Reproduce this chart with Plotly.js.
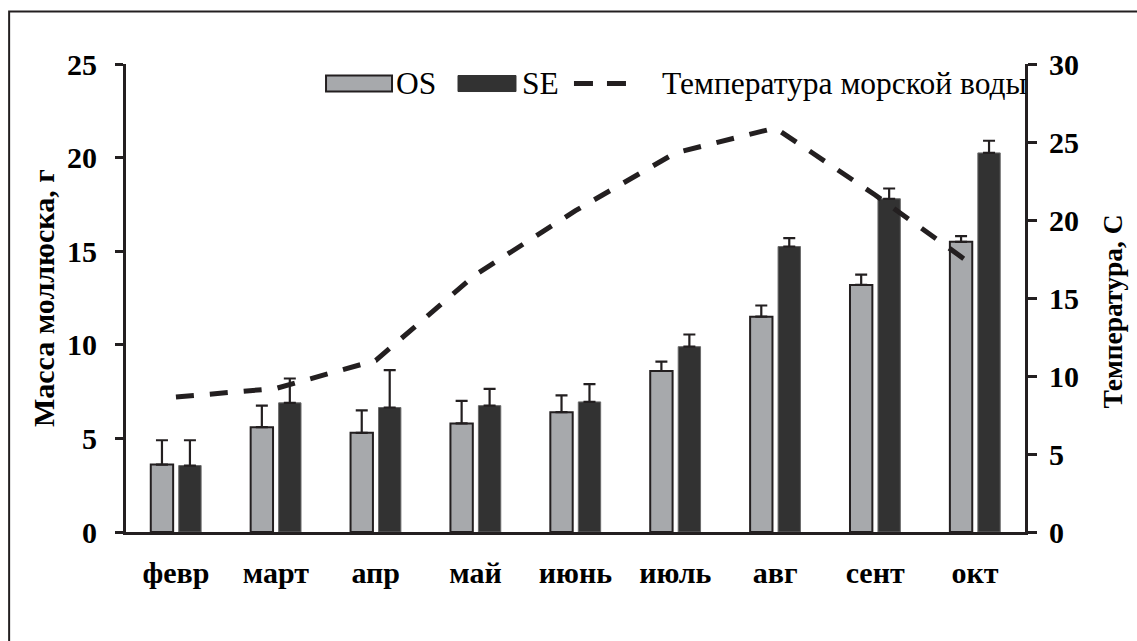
<!DOCTYPE html>
<html>
<head>
<meta charset="utf-8">
<script src="https://cdn.plot.ly/plotly-3.0.1.min.js"></script>
<style>
  html, body { margin: 0; padding: 0; background: #fff; }
  #chart { width: 1137px; height: 641px; }
</style>
</head>
<body>
<div id="chart"></div>
<script>
// ---- data ----
const months = ["февр", "март", "апр", "май", "июнь", "июль", "авг", "сент", "окт"];
const massOS = [3.6, 5.6, 5.3, 5.8, 6.4, 8.6, 11.5, 13.2, 15.5];
const errOS  = [1.3, 1.15, 1.2, 1.2, 0.9, 0.5, 0.6, 0.55, 0.3];
const massSE = [3.55, 6.9, 6.65, 6.75, 6.95, 9.9, 15.25, 17.8, 20.25];
const errSE  = [1.35, 1.3, 2.0, 0.9, 0.95, 0.65, 0.45, 0.55, 0.65];
const noErr  = [0, 0, 0, 0, 0, 0, 0, 0, 0];
const seaTemp = [8.65, 9.2, 11.0, 16.5, 20.6, 24.3, 25.9, 21.6, 17.0];
const massTicks = [0, 5, 10, 15, 20, 25];
const tempTicks = [0, 5, 10, 15, 20, 25, 30];
const seriesNames = ["OS", "SE", "Температура морской воды"];

const ink = "#231f20";
const greyFill = "#a7a9ac";
const darkFill = "#323232";
const serif = "Liberation Serif";

const traces = [
  {
    type: "bar", name: seriesNames[0], x: months, y: massOS,
    marker: { color: greyFill, line: { color: ink, width: 2 } },
    error_y: { type: "data", array: errOS, arrayminus: noErr, symmetric: false,
               color: ink, thickness: 2.2, width: 6 },
    hoverinfo: "skip", showlegend: false
  },
  {
    type: "bar", name: seriesNames[1], x: months, y: massSE,
    marker: { color: darkFill, line: { color: "#6a6a6a", width: 1 } },
    error_y: { type: "data", array: errSE, arrayminus: noErr, symmetric: false,
               color: ink, thickness: 2.2, width: 6 },
    hoverinfo: "skip", showlegend: false
  },
  {
    type: "scatter", mode: "lines", name: seriesNames[2],
    x: months, y: seaTemp, yaxis: "y2",
    line: { color: ink, width: 5, dash: "18px,16px" },
    hoverinfo: "skip", showlegend: false
  }
];

// legend (Excel-style wide swatches) built in paper coordinates
const legY = 0.9583;
const legendShapes = [
  { type: "rect", xref: "paper", yref: "paper", x0: 0.2225, x1: 0.2959, y0: 0.9412, y1: 0.9754,
    line: { color: ink, width: 2 }, fillcolor: greyFill },
  { type: "rect", xref: "paper", yref: "paper", x0: 0.3693, x1: 0.4338, y0: 0.9412, y1: 0.9754,
    line: { color: darkFill, width: 1 }, fillcolor: darkFill },
  { type: "line", xref: "paper", yref: "paper", x0: 0.4983, x1: 0.5662, y0: legY, y1: legY,
    line: { color: ink, width: 5, dash: "19px,14px" } }
];
const legendTexts = [
  { text: seriesNames[0], x: 0.2981 },
  { text: seriesNames[1], x: 0.4383 },
  { text: seriesNames[2], x: 0.594 }
].map(d => ({
  text: d.text, xref: "paper", yref: "paper", x: d.x, y: legY,
  xanchor: "left", yanchor: "middle", showarrow: false,
  font: { family: serif, size: 31.5, color: "#000" }
}));

const layout = {
  width: 1137, height: 641,
  margin: { l: 126, r: 112, t: 64, b: 109, pad: 0 },
  paper_bgcolor: "#ffffff", plot_bgcolor: "#ffffff",
  font: { family: serif, color: "#000", size: 30 },
  showlegend: false,
  barmode: "group", bargap: 0.44, bargroupgap: 0.2,
  xaxis: {
    type: "category", range: [-0.5, 8.5],
    showline: true, linecolor: ink, linewidth: 3, mirror: false,
    ticks: "", showgrid: false, zeroline: false,
    tickfont: { family: serif, size: 30, color: "#000", weight: "bold" },
    ticklabelstandoff: 12
  },
  yaxis: {
    range: [0, 25], tickvals: massTicks, ticktext: massTicks.map(String),
    showline: true, linecolor: ink, linewidth: 3,
    ticks: "outside", ticklen: 8, tickwidth: 3, tickcolor: ink,
    showgrid: false, zeroline: false,
    tickfont: { family: serif, size: 30, color: "#000", weight: "bold" },
    ticklabelstandoff: 12
  },
  yaxis2: {
    range: [0, 30], tickvals: tempTicks, ticktext: tempTicks.map(String),
    overlaying: "y", side: "right",
    showline: true, linecolor: ink, linewidth: 3,
    ticks: "outside", ticklen: 9, tickwidth: 3, tickcolor: ink,
    showgrid: false, zeroline: false,
    tickfont: { family: serif, size: 30, color: "#000", weight: "bold" },
    ticklabelstandoff: 6
  },
  annotations: [
    { text: "Масса моллюска, г", xref: "paper", yref: "paper", x: -0.0923, y: 0.50,
      textangle: -90, showarrow: false, xanchor: "center", yanchor: "middle",
      font: { family: serif, size: 30, color: "#000", weight: "bold" } },
    { text: "Температура, С", xref: "paper", yref: "paper", x: 1.0979, y: 0.471,
      textangle: -90, showarrow: false, xanchor: "center", yanchor: "middle",
      font: { family: serif, size: 27.5, color: "#000", weight: "bold" } }
  ].concat(legendTexts),
  shapes: [
    { type: "rect", xref: "paper", yref: "paper",
      x0: -0.130, x1: 1.2, y0: -0.3, y1: 1.112,
      line: { color: ink, width: 2 }, fillcolor: "rgba(0,0,0,0)", layer: "below" }
  ].concat(legendShapes)
};

Plotly.newPlot("chart", traces, layout, { displayModeBar: false, staticPlot: true });
</script>
</body>
</html>
